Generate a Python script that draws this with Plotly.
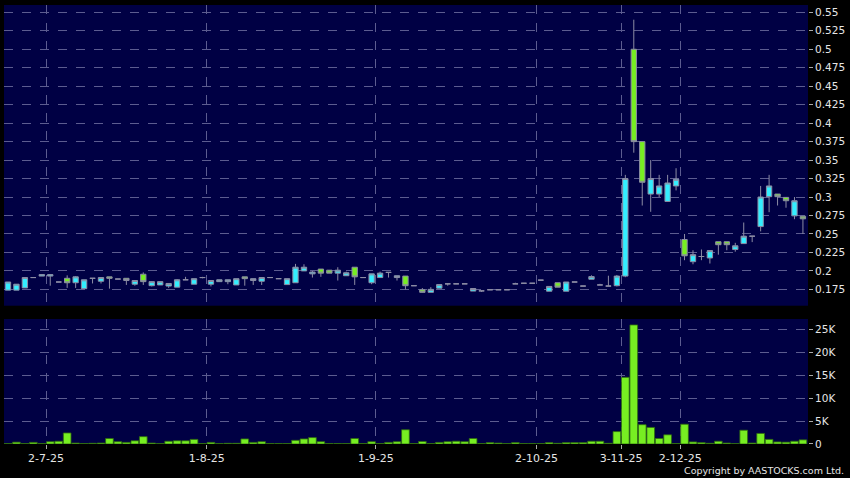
import plotly.graph_objects as go

# ---- data (one entry per traded day) ----
opens = [0.174, 0.174, 0.177, 0.191, 0.193, 0.193, 0.185, 0.190, 0.184, 0.176,
         0.190, 0.186, 0.192, 0.189, 0.190, 0.182, 0.1955, 0.180, 0.181, 0.1795,
         0.178, 0.188, 0.182, 0.191, 0.182, 0.1855, 0.1855, 0.181, 0.192, 0.187,
         0.186, 0.191, 0.1895, 0.1815, 0.184, 0.200, 0.196, 0.2025, 0.201, 0.197,
         0.1935, 0.205, 0.191, 0.184, 0.191, 0.198, 0.191, 0.193, 0.180, 0.1745,
         0.171, 0.1766, 0.1825, 0.1825, 0.1825, 0.1727, 0.173, 0.1745, 0.1745, 0.1745,
         0.1825, 0.1833, 0.1833, 0.1875, 0.1725, 0.184, 0.1725, 0.185, 0.1795, 0.1887,
         0.181, 0.1795, 0.180, 0.193, 0.500, 0.375, 0.304, 0.304, 0.294, 0.315,
         0.2425, 0.2125, 0.2195, 0.2175, 0.2395, 0.2395, 0.229, 0.237, 0.247, 0.260,
         0.3005, 0.304, 0.2995, 0.2745, 0.274]
highs = [0.185, 0.182, 0.191, 0.191, 0.195, 0.195, 0.185, 0.194, 0.193, 0.188,
         0.190, 0.191, 0.192, 0.189, 0.190, 0.187, 0.198, 0.186, 0.1855, 0.183,
         0.189, 0.192, 0.1895, 0.192, 0.187, 0.188, 0.188, 0.1895, 0.192, 0.1895,
         0.191, 0.191, 0.1895, 0.1895, 0.2095, 0.209, 0.200, 0.2025, 0.201, 0.205,
         0.199, 0.205, 0.191, 0.196, 0.199, 0.198, 0.1935, 0.193, 0.180, 0.1768,
         0.178, 0.1815, 0.1825, 0.1825, 0.1825, 0.1762, 0.173, 0.1745, 0.1745, 0.1745,
         0.184, 0.1833, 0.1833, 0.1875, 0.179, 0.184, 0.185, 0.185, 0.1795, 0.194,
         0.1825, 0.1935, 0.1945, 0.330, 0.540, 0.375, 0.350, 0.330, 0.330, 0.339,
         0.250, 0.228, 0.229, 0.2275, 0.2395, 0.2395, 0.238, 0.2655, 0.247, 0.315,
         0.330, 0.304, 0.2995, 0.300, 0.274]
lows = [0.174, 0.174, 0.177, 0.191, 0.193, 0.180, 0.185, 0.177, 0.177, 0.176,
        0.183, 0.183, 0.176, 0.189, 0.181, 0.180, 0.181, 0.179, 0.181, 0.177,
        0.178, 0.188, 0.182, 0.190, 0.179, 0.1855, 0.182, 0.181, 0.180, 0.181,
        0.181, 0.191, 0.1895, 0.1815, 0.184, 0.200, 0.191, 0.192, 0.197, 0.187,
        0.1935, 0.181, 0.191, 0.182, 0.191, 0.191, 0.187, 0.175, 0.180, 0.1707,
        0.171, 0.1766, 0.180, 0.1825, 0.1825, 0.1727, 0.1715, 0.1745, 0.1745, 0.1745,
        0.1825, 0.1833, 0.1833, 0.1875, 0.1725, 0.178, 0.1725, 0.185, 0.1795, 0.1887,
        0.181, 0.1795, 0.179, 0.1915, 0.360, 0.2885, 0.280, 0.300, 0.294, 0.309,
        0.2145, 0.209, 0.2145, 0.210, 0.222, 0.228, 0.226, 0.237, 0.239, 0.2535,
        0.2795, 0.2885, 0.2855, 0.270, 0.250]
closes = [0.185, 0.182, 0.191, 0.191, 0.195, 0.195, 0.185, 0.184, 0.192, 0.188,
          0.190, 0.191, 0.190, 0.189, 0.187, 0.187, 0.1855, 0.1855, 0.1855, 0.183,
          0.188, 0.188, 0.1895, 0.191, 0.187, 0.188, 0.188, 0.1895, 0.1895, 0.1895,
          0.191, 0.191, 0.1895, 0.1895, 0.205, 0.205, 0.1985, 0.197, 0.197, 0.201,
          0.1975, 0.192, 0.191, 0.196, 0.197, 0.198, 0.1935, 0.180, 0.180, 0.171,
          0.175, 0.1815, 0.1825, 0.1825, 0.1825, 0.1762, 0.173, 0.1745, 0.1745, 0.1745,
          0.1825, 0.1833, 0.1833, 0.1875, 0.179, 0.178, 0.185, 0.185, 0.1795, 0.1923,
          0.181, 0.1795, 0.193, 0.325, 0.375, 0.320, 0.325, 0.315, 0.319, 0.324,
          0.2205, 0.222, 0.2195, 0.2275, 0.2355, 0.2355, 0.234, 0.247, 0.247, 0.300,
          0.315, 0.3005, 0.295, 0.295, 0.2705]
volumes = [100, 400, 100, 350, 100, 500, 600, 2400, 200, 100,
           150, 200, 1200, 500, 350, 700, 1600, 200, 80, 600,
           700, 700, 1000, 100, 350, 100, 150, 150, 1100, 350,
           500, 100, 100, 100, 800, 1100, 1400, 500, 100, 100,
           100, 1200, 100, 500, 100, 350, 500, 3100, 100, 550,
           100, 350, 500, 600, 500, 1200, 100, 300, 200, 100,
           300, 100, 100, 100, 300, 150, 300, 300, 300, 600,
           600, 150, 2700, 14500, 25900, 4200, 3600, 1200, 2000, 100,
           4300, 450, 300, 150, 600, 200, 80, 3000, 200, 2300,
           1000, 450, 400, 600, 900]

# first traded day of each month shown on the axis (bar index) and its label
month_start_idx = [5, 24, 44, 63, 73, 80]
month_labels = ["2-7-25", "1-8-25", "1-9-25", "2-10-25", "3-11-25", "2-12-25"]

price_ticks = [0.175, 0.2, 0.225, 0.25, 0.275, 0.3, 0.325, 0.35, 0.375, 0.4,
               0.425, 0.45, 0.475, 0.5, 0.525, 0.55]
price_labels = ["0.175", "0.2", "0.225", "0.25", "0.275", "0.3", "0.325", "0.35",
                "0.375", "0.4", "0.425", "0.45", "0.475", "0.5", "0.525", "0.55"]
vol_ticks = [0, 5000, 10000, 15000, 20000, 25000]
vol_labels = ["0", "5K", "10K", "15K", "20K", "25K"]

idx = list(range(len(opens)))

CYAN = "#33eeff"
GREEN = "#77ee22"
EDGE = "#8c8ca4"
GRID = "#5c5c90"
TXT = "#e6e6e6"
FONT = "DejaVu Sans"

fig = go.Figure()
fig.add_trace(go.Candlestick(
    x=idx, open=opens, high=highs, low=lows, close=closes,
    xaxis="x2", yaxis="y2",
    increasing=dict(fillcolor=CYAN, line=dict(color=EDGE, width=1)),
    decreasing=dict(fillcolor=GREEN, line=dict(color=EDGE, width=1)),
    whiskerwidth=0, hoverinfo="skip", showlegend=False,
))
fig.add_trace(go.Bar(
    x=idx, y=volumes, xaxis="x", yaxis="y",
    marker=dict(color=GREEN, line=dict(color="#2f6a10", width=0.8)),
    hoverinfo="skip", showlegend=False,
))

grid_x = [i - 0.5 for i in month_start_idx]
xr = [-0.47, 94.6]
common_x = dict(range=xr, showgrid=True, gridcolor=GRID, griddash="dash",
                gridwidth=1, zeroline=False, showline=False,
                tickvals=grid_x, rangeslider=dict(visible=False), fixedrange=True)

fig.update_layout(
    width=850, height=478,
    margin=dict(l=4, r=42, t=5, b=34),
    paper_bgcolor="black", plot_bgcolor="#000044",
    font=dict(family=FONT, size=11, color=TXT),
    bargap=0.09, boxgap=0.1,
    xaxis=dict(**common_x, anchor="y", ticktext=month_labels,
               ticks="outside", ticklen=4, tickcolor="#aaaaaa",
               tickfont=dict(family=FONT, size=11, color=TXT)),
    xaxis2=dict(**common_x, anchor="y2", matches="x", showticklabels=False, ticks=""),
    yaxis=dict(domain=[0, 0.2847], range=[0, 27180], side="right", anchor="x",
               tickvals=vol_ticks, ticktext=vol_labels, showgrid=True,
               gridcolor=GRID, griddash="dash", zeroline=False,
               ticks="outside", ticklen=4, tickcolor="#aaaaaa",
               tickfont=dict(family=FONT, size=10.5, color=TXT), fixedrange=True),
    yaxis2=dict(domain=[0.315, 1], range=[0.1529, 0.5599], side="right", anchor="x2",
                tickvals=price_ticks, ticktext=price_labels, showgrid=True,
                gridcolor=GRID, griddash="dash", zeroline=False,
                ticks="outside", ticklen=4, tickcolor="#aaaaaa",
                tickfont=dict(family=FONT, size=10.5, color=TXT), fixedrange=True),
    annotations=[dict(text="Copyright by AASTOCKS.com Ltd.", xref="paper", yref="paper",
                      x=1.047, y=-0.0615, xanchor="right", yanchor="middle",
                      showarrow=False, font=dict(family=FONT, size=9.5, color=TXT))],
)

fig.write_html("out.html", config={"displayModeBar": False},
               post_script="document.body.style.margin='0';document.body.style.background='black';")
